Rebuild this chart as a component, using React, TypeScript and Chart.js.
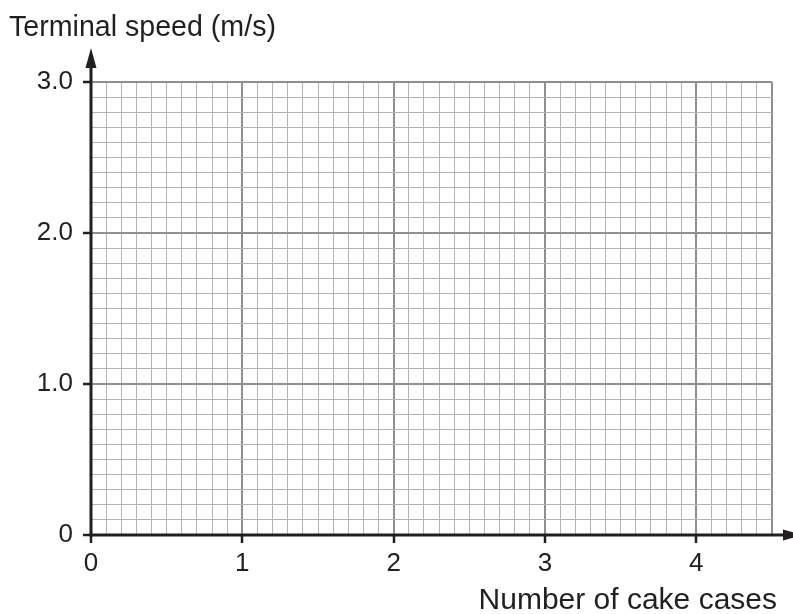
import React, { useEffect, useRef } from 'react';
import { Chart, registerables } from 'chart.js';

Chart.register(...registerables);

// ---- data (blank answer grid) ----
const xTickValues = [0, 1, 2, 3, 4];
const xTickLabels = ['0', '1', '2', '3', '4'];
const yTickValues = [0, 1, 2, 3];
const yTickLabels = ['0', '1.0', '2.0', '3.0'];
const xMin = 0;
const xMax = 4.5;
const yMin = 0;
const yMax = 3.0;
const minorStep = 0.1;
const yAxisTitle = 'Terminal speed (m/s)';
const xAxisTitle = 'Number of cake cases';
const plottedPoints: { x: number; y: number }[] = [];

const INK = '#231f20';
const MINOR = '#b4b4b4';
const MAJOR = '#8f8f8f';
const FONT = "'Liberation Sans', Arial, Helvetica, sans-serif";

const near = (a: number, b: number) => Math.abs(a - b) < 1e-6;
const findIndex = (vals: number[], v: number) => vals.findIndex((t) => near(t, v));

const axesPlugin = {
  id: 'axesArrowsTitles',
  afterDraw(chart: any) {
    const { ctx } = chart;
    const xs = chart.scales.x;
    const ys = chart.scales.y;
    const x0 = xs.getPixelForValue(0);
    const y0 = ys.getPixelForValue(0);
    const yTip = ys.getPixelForValue(yMax) - 34;
    const xTip = xs.getPixelForValue(xMax) + 31;
    ctx.save();
    ctx.strokeStyle = INK;
    ctx.fillStyle = INK;
    ctx.lineWidth = 3;
    ctx.lineCap = 'butt';
    // y axis
    ctx.beginPath();
    ctx.moveTo(x0, y0 + 1.5);
    ctx.lineTo(x0, yTip + 16);
    ctx.stroke();
    // x axis
    ctx.beginPath();
    ctx.moveTo(x0 - 1.5, y0);
    ctx.lineTo(xTip - 16, y0);
    ctx.stroke();
    // arrow heads
    ctx.beginPath();
    ctx.moveTo(x0, yTip);
    ctx.lineTo(x0 - 5.5, yTip + 20);
    ctx.lineTo(x0 + 5.5, yTip + 20);
    ctx.closePath();
    ctx.fill();
    ctx.beginPath();
    ctx.moveTo(xTip, y0);
    ctx.lineTo(xTip - 20, y0 - 5.5);
    ctx.lineTo(xTip - 20, y0 + 5.5);
    ctx.closePath();
    ctx.fill();
    // titles
    ctx.textBaseline = 'alphabetic';
    ctx.font = `28.6px ${FONT}`;
    ctx.textAlign = 'left';
    ctx.fillText(yAxisTitle, 9, 36);
    ctx.font = `30px ${FONT}`;
    ctx.textAlign = 'right';
    ctx.fillText(xAxisTitle, 777, 609);
    ctx.restore();
  },
};

export default function App() {
  const ref = useRef<HTMLCanvasElement | null>(null);

  useEffect(() => {
    document.body.style.margin = '0';
    document.body.style.overflow = 'hidden';
    const canvas = ref.current;
    if (!canvas) return;
    const isMajorX = (v: number) => near(v, Math.round(v)) || near(v, xMax);
    const isMajorY = (v: number) => near(v, Math.round(v)) || near(v, yMax);
    const chart = new Chart(canvas, {
      type: 'scatter',
      data: {
        datasets: [
          {
            data: plottedPoints,
            showLine: false,
            pointRadius: 4,
            backgroundColor: INK,
            borderColor: INK,
          },
        ],
      },
      plugins: [axesPlugin],
      options: {
        responsive: false,
        animation: false,
        layout: { padding: { top: 82, right: 21, left: 0, bottom: 0 } },
        plugins: {
          legend: { display: false },
          tooltip: { enabled: false },
          title: { display: false },
        },
        scales: {
          x: {
            type: 'linear',
            min: xMin,
            max: xMax,
            afterFit: (s: any) => {
              s.height = 79;
            },
            border: { display: false },
            grid: {
              color: (c: any) => (isMajorX(c.tick.value) ? MAJOR : MINOR),
              lineWidth: (c: any) => (isMajorX(c.tick.value) ? 2 : 1),
              tickColor: (c: any) =>
                findIndex(xTickValues, c.tick.value) >= 0 ? INK : 'rgba(0,0,0,0)',
              tickWidth: (c: any) => (findIndex(xTickValues, c.tick.value) >= 0 ? 2.5 : 0),
              tickLength: 8,
            },
            ticks: {
              stepSize: minorStep,
              autoSkip: false,
              maxRotation: 0,
              minRotation: 0,
              padding: 5,
              color: INK,
              font: { family: FONT, size: 26 },
              callback: (v: any) => {
                const i = findIndex(xTickValues, Number(v));
                return i >= 0 ? xTickLabels[i] : '';
              },
            },
          },
          y: {
            type: 'linear',
            min: yMin,
            max: yMax,
            afterFit: (s: any) => {
              s.width = 91;
            },
            border: { display: false },
            grid: {
              color: (c: any) => (isMajorY(c.tick.value) ? MAJOR : MINOR),
              lineWidth: (c: any) => (isMajorY(c.tick.value) ? 2 : 1),
              tickColor: (c: any) =>
                findIndex(yTickValues, c.tick.value) >= 0 ? INK : 'rgba(0,0,0,0)',
              tickWidth: (c: any) => (findIndex(yTickValues, c.tick.value) >= 0 ? 2.5 : 0),
              tickLength: 8,
            },
            ticks: {
              stepSize: minorStep,
              autoSkip: false,
              padding: 10,
              color: INK,
              font: { family: FONT, size: 26 },
              callback: (v: any) => {
                const i = findIndex(yTickValues, Number(v));
                return i >= 0 ? yTickLabels[i] : '';
              },
            },
          },
        },
      },
    } as any);
    return () => chart.destroy();
  }, []);

  return (
    <div style={{ width: 793, height: 614, background: '#ffffff' }}>
      <canvas ref={ref} width={793} height={614} style={{ display: 'block' }} />
    </div>
  );
}
